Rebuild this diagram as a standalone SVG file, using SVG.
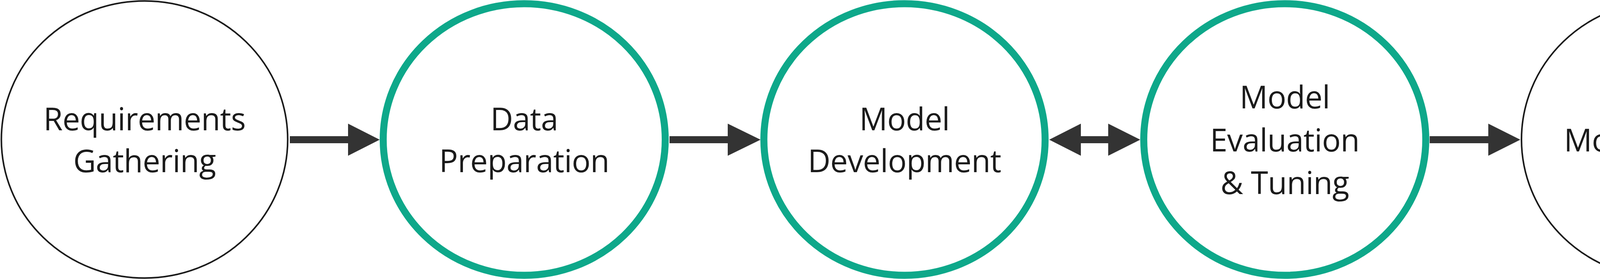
<svg xmlns="http://www.w3.org/2000/svg" width="5604" height="713" viewBox="0 0 5604 713">
<style>
.plain{fill:#ffffff;stroke:#1a1a1a;stroke-width:4}
.hl{fill:#ffffff;stroke:#0ea88a;stroke-width:18}
.lbl{font-family:"Open Sans","Noto Sans","Liberation Sans",sans-serif;font-size:80px;fill:#1a1a1a;text-anchor:middle;letter-spacing:-0.6px}
.conn{fill:#333333;stroke:none}
.wm{font-family:"Open Sans","Noto Sans","Liberation Sans",sans-serif;font-size:84px;font-weight:600;fill:#cfcedc}
</style>
<rect width="5604" height="713" fill="#ffffff"/>
<g id="n1">
<ellipse class="plain" cx="370" cy="356.5" rx="366.5" ry="354"/>
<text class="lbl" x="370" y="333">Requirements</text>
<text class="lbl" x="370" y="440">Gathering</text>
</g>
<g id="n2">
<ellipse class="hl" cx="1342" cy="356.5" rx="361" ry="347"/>
<text class="lbl" x="1342" y="333">Data</text>
<text class="lbl" x="1342" y="440">Preparation</text>
</g>
<g id="n3">
<ellipse class="hl" cx="2315.5" cy="356.5" rx="360" ry="347"/>
<text class="lbl" x="2315.5" y="333">Model</text>
<text class="lbl" x="2315.5" y="440">Development</text>
</g>
<g id="n4">
<ellipse class="hl" cx="3289" cy="356.5" rx="361" ry="347"/>
<text class="lbl" x="3289" y="277">Model</text>
<text class="lbl" x="3289" y="387">Evaluation</text>
<text class="lbl" x="3289" y="496">&amp; Tuning</text>
</g>
<g id="n5">
<ellipse class="plain" cx="4261.5" cy="356.5" rx="366.5" ry="354"/>
<text class="lbl" x="4261.5" y="387">Model Testing</text>
</g>
<g id="n6">
<ellipse class="plain" cx="5234" cy="356.5" rx="367" ry="354"/>
<text class="lbl" x="5234" y="333">Model</text>
<text class="lbl" x="5234" y="440">Deployment</text>
<text class="wm" x="5296" y="582">miro</text>
</g>
<g id="connectors">
<path class="conn" d="M742,348 H891 V316 L972,357 L891,398 V366 H742 Z"/>
<path class="conn" d="M1714,348 H1863 V316 L1947,357 L1863,398 V366 H1714 Z"/>
<path class="conn" d="M2686,357 L2767,316 V348 H2837 V316 L2919,357 L2837,398 V366 H2767 V398 Z"/>
<path class="conn" d="M3660,348 H3810 V316 L3892,357 L3810,398 V366 H3660 Z"/>
<path class="conn" d="M4633,348 H4783 V316 L4865,357 L4783,398 V366 H4633 Z"/>
</g>
</svg>
